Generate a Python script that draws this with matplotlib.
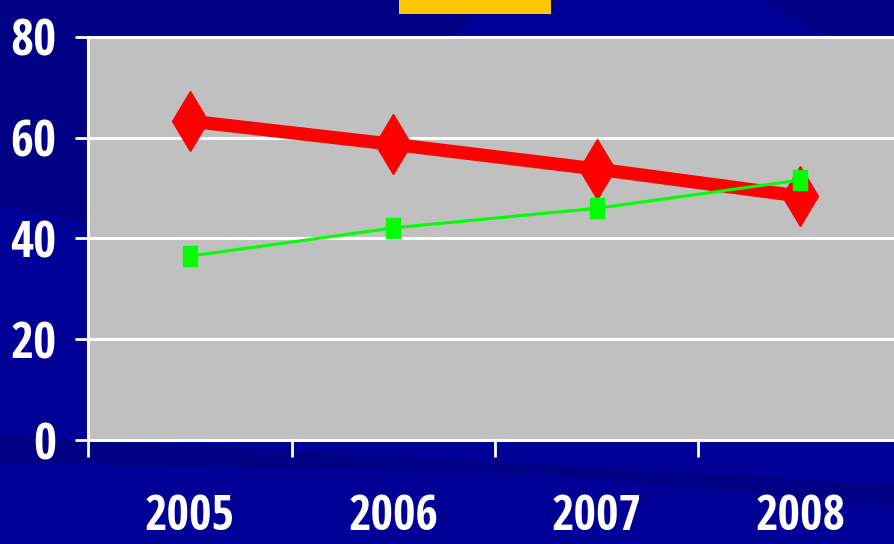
import matplotlib.pyplot as plt
from matplotlib.patches import Polygon, Rectangle
from matplotlib.path import Path
import numpy as np

years = ['2005', '2006', '2007', '2008']
red_values = [63.3, 58.7, 53.8, 48.4]
green_values = [36.5, 42.1, 46.0, 51.6]
y_ticks = [0, 20, 40, 60, 80]

plt.rcParams['font.family'] = ['Open Sans Condensed', 'IBM Plex Sans Condensed',
                               'Liberation Sans', 'DejaVu Sans']
plt.rcParams['font.weight'] = 'bold'

W, H = 894, 544
fig = plt.figure(figsize=(W / 100, H / 100), dpi=100)
fig.patch.set_facecolor('#000096')

# darker diagonal bands of the slide background (figure fraction coords)
bands = [
    [(0, 1), (0.55, 1), (0.25, 0.55), (0, 0.62)],
    [(0.85, 1), (1, 1), (1, 0.93), (0.93, 0.93)],
    [(0, 0.15), (0.6, 0.13), (1, 0.07), (1, 0.11), (0, 0.2)],
]
for pts in bands:
    fig.patches.append(Polygon(pts, closed=True, transform=fig.transFigure,
                               facecolor='#000084', edgecolor='none', zorder=-5))

# yellow box at the top (cut-off title)
fig.patches.append(Rectangle((399 / W, 1 - 14 / H), 152 / W, 14 / H, transform=fig.transFigure,
                             facecolor='#FFC800', edgecolor='none', zorder=-4))

left, top, bottom = 88, 37, 440
ax = fig.add_axes([left / W, (H - bottom) / H, 814 / W, (bottom - top) / H])
ax.set_facecolor('#C0C0C0')

x = np.arange(len(years)) + 0.5

for yv in y_ticks[1:]:
    ax.axhline(yv, color='white', lw=2.2, zorder=1, clip_on=False)

ax.plot(x, red_values, color='#FF0000', lw=9.5, marker='d', ms=31, zorder=3)

box = Path([(-0.65, -1), (0.65, -1), (0.65, 1), (-0.65, 1), (-0.65, -1)],
           [Path.MOVETO, Path.LINETO, Path.LINETO, Path.LINETO, Path.CLOSEPOLY])
ax.plot(x, green_values, color='#00FF00', lw=2.2, marker=box, ms=15, zorder=4)

ax.set_xlim(0, 4)
ax.set_ylim(0, 80)

for s in ['top', 'right']:
    ax.spines[s].set_visible(False)
for s in ['left', 'bottom']:
    ax.spines[s].set_color('white')
    ax.spines[s].set_linewidth(2.2)

ax.set_yticks(y_ticks)
ax.tick_params(axis='y', colors='white', length=9.5, width=2, pad=13, labelsize=36)

ax.set_xticks(range(5))
ax.set_xticklabels([])
ax.set_xticks(x, minor=True)
ax.set_xticklabels(years, minor=True)
ax.tick_params(axis='x', which='major', colors='white', length=12, width=2)
ax.tick_params(axis='x', which='minor', colors='white', length=0, pad=38, labelsize=35)

plt.savefig('out.png', dpi=100, facecolor=fig.get_facecolor())
